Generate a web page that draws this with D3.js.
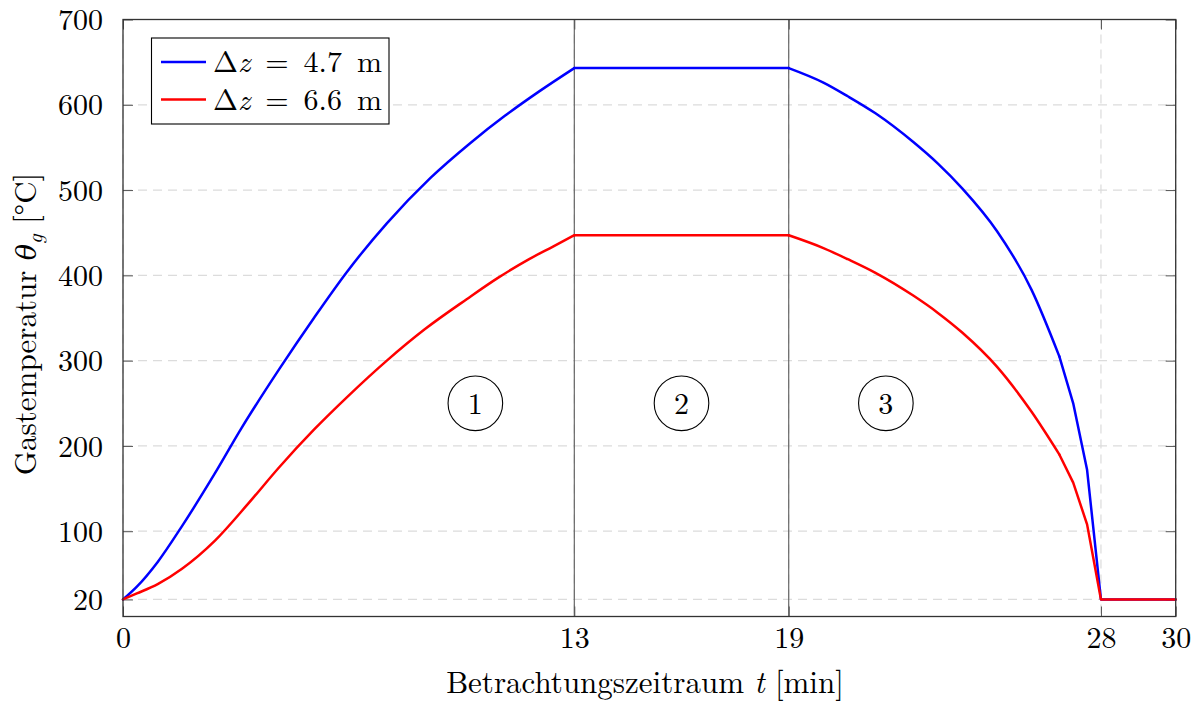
<!DOCTYPE html>
<html>
<head>
<meta charset="utf-8">
<script src="https://cdn.jsdelivr.net/npm/d3@7"></script>
<style>
  html, body { margin: 0; padding: 0; background: #fff; }
  svg { display: block; }
  text { font-family: 'Latin Modern Roman', 'CMU Serif', 'Liberation Serif', serif; fill: #000; }
</style>
</head>
<body>
<svg id="chart" width="1203" height="704"></svg>
<script>
// Time axis ticks [min] and temperature ticks [°C]
const timeTicks = [0, 13, 19, 28, 30];
const tempTicks = [20, 100, 200, 300, 400, 500, 600, 700];

// Δz = 4.7 m
const timeA = [0, 0.4, 1, 1.7, 2.65, 3.4, 4.5, 5.5, 6.45, 7.6, 8.85, 10, 11, 12, 13,
               19, 20, 20.7, 21.5, 22.6, 23.3, 24, 25, 26, 26.8, 27.2, 27.6, 28, 30];
const tempA = [20, 35, 64, 106, 168, 220, 290, 350, 404, 461, 514, 555, 587, 616, 643,
               643, 626, 610, 590, 556, 531, 502, 452, 383, 305, 250, 172, 20, 20];

// Δz = 6.6 m
const timeB = [0, 0.4, 1, 1.7, 2.65, 3.6, 4.5, 5.5, 6.5, 7.6, 8.7, 9.9, 10.8, 11.7, 12.4, 13,
               19, 20, 20.7, 21.5, 22.6, 23.3, 24, 25, 26, 26.8, 27.2, 27.6, 28, 30];
const tempB = [20, 27, 38, 56, 89, 132, 175, 219, 259, 300, 337, 372, 397, 419, 434, 447,
               447, 432, 419, 403, 376, 356, 333, 293, 240, 190, 157, 108, 20, 20];

// Phase markers: label and position
const phaseLabels = ["1", "2", "3"];
const phaseTime = [10.15, 16, 21.8];
const phaseTemp = [250, 250, 250];

const legendLabels = ["4.7", "6.6"];
const seriesColors = ["#0000ff", "#ff0000"];

const W = 1203, H = 704;
const margin = { left: 123, top: 19.5, right: 27.3, bottom: 87.5 };
const iw = W - margin.left - margin.right;
const ih = H - margin.top - margin.bottom;

const svg = d3.select("#chart");
const g = svg.append("g").attr("transform", `translate(${margin.left},${margin.top})`);

// Piecewise time axis: the phase boundaries sit at fixed fractions of the width
const timeFrac = [0, 0.4287, 0.6324, 0.9290, 1];
const x = d3.scaleLinear().domain(timeTicks).range(timeFrac.map(f => f * iw));
const y = d3.scaleLinear().domain([0, 700]).range([ih, 0]);

// Dashed grid
const gridStyle = sel => sel.attr("stroke", "#dcdcdc").attr("stroke-width", 1.2)
  .attr("stroke-dasharray", "9,6").attr("fill", "none");
g.append("g").selectAll("line").data(tempTicks).join("line")
  .attr("x1", 0).attr("x2", iw).attr("y1", d => y(d)).attr("y2", d => y(d)).call(gridStyle);
g.append("g").selectAll("line").data(timeTicks).join("line")
  .attr("x1", d => x(d)).attr("x2", d => x(d)).attr("y1", 0).attr("y2", ih).call(gridStyle);

// Solid separators between phases
g.append("g").selectAll("line").data([13, 19]).join("line")
  .attr("x1", d => x(d)).attr("x2", d => x(d)).attr("y1", 0).attr("y2", ih)
  .attr("stroke", "#5a5a5a").attr("stroke-width", 1.1);

// Axes with inward ticks on all four sides
const tickLen = 10;
const fontSize = 30;
const xAxisB = d3.axisBottom(x).tickValues(timeTicks).tickSize(-tickLen).tickPadding(10).tickFormat(d3.format("d"));
const xAxisT = d3.axisTop(x).tickValues(timeTicks).tickSize(-tickLen).tickFormat("");
const yAxisL = d3.axisLeft(y).tickValues(tempTicks).tickSize(-tickLen).tickPadding(20).tickFormat(d3.format("d"));
const yAxisR = d3.axisRight(y).tickValues(tempTicks).tickSize(-tickLen).tickFormat("");

function styleAxis(sel) {
  sel.select(".domain").remove();
  sel.selectAll(".tick line").attr("stroke", "#555").attr("stroke-width", 1);
  sel.selectAll(".tick text").attr("font-size", fontSize).attr("fill", "#000")
    .style("font-family", "'Latin Modern Roman', 'CMU Serif', 'Liberation Serif', serif");
}
g.append("g").attr("transform", `translate(0,${ih})`).call(xAxisB).call(styleAxis)
  .selectAll(".tick text").attr("dy", "0.71em");
g.append("g").call(xAxisT).call(styleAxis);
g.append("g").call(yAxisL).call(styleAxis)
  .selectAll(".tick text").attr("dy", "0.34em");
g.append("g").attr("transform", `translate(${iw},0)`).call(yAxisR).call(styleAxis);

// Curves: smooth heating and cooling phases, straight plateau and final drop
function pieces(ts, vs) {
  const pts = d3.zip(ts, vs);
  const i13 = ts.indexOf(13), i19 = ts.indexOf(19), iTail = ts.indexOf(26.8);
  return [
    { pts: pts.slice(0, i13 + 1), curve: d3.curveMonotoneX },
    { pts: pts.slice(i13, i19 + 1), curve: d3.curveLinear },
    { pts: pts.slice(i19, iTail + 1), curve: d3.curveMonotoneX },
    { pts: pts.slice(iTail), curve: d3.curveLinear }
  ];
}
const seriesData = [pieces(timeA, tempA), pieces(timeB, tempB)];
const lineGen = c => d3.line().x(d => x(d[0])).y(d => y(d[1])).curve(c);
seriesData.forEach((segs, i) => {
  const sg = g.append("g");
  segs.forEach(s => {
    sg.append("path").attr("d", lineGen(s.curve)(s.pts)).attr("fill", "none")
      .attr("stroke", seriesColors[i]).attr("stroke-width", 2.5)
      .attr("stroke-linejoin", "round").attr("stroke-linecap", "round");
  });
});

// Phase markers
const phases = g.append("g").selectAll("g").data(phaseLabels).join("g")
  .attr("transform", (d, i) => `translate(${x(phaseTime[i])},${y(phaseTemp[i])})`);
phases.append("circle").attr("r", 27.3).attr("fill", "none").attr("stroke", "#000").attr("stroke-width", 1.1);
phases.append("text").attr("text-anchor", "middle").attr("dy", "0.35em")
  .attr("font-size", fontSize).text(d => d);

// Frame
g.append("rect").attr("x", 0).attr("y", 0).attr("width", iw).attr("height", ih)
  .attr("fill", "none").attr("stroke", "#333").attr("stroke-width", 1.3);

// Legend
const lg = svg.append("g");
lg.append("rect").attr("x", 151.5).attr("y", 38).attr("width", 237.5).attr("height", 86)
  .attr("fill", "#fff").attr("stroke", "#000").attr("stroke-width", 1.1);
const rows = lg.selectAll("g.row").data(legendLabels).join("g").attr("class", "row")
  .attr("transform", (d, i) => `translate(0,${62 + i * 37.5})`);
rows.append("line").attr("x1", 161).attr("x2", 206).attr("y1", 0).attr("y2", 0)
  .attr("stroke", (d, i) => seriesColors[i]).attr("stroke-width", 2.5);
const lt = rows.append("text").attr("x", 213).attr("y", 10).attr("font-size", 30)
  .style("word-spacing", "5px");
lt.append("tspan").text("Δ");
lt.append("tspan").attr("font-style", "italic").text("z");
lt.append("tspan").text(d => ` = ${d} m`);

// Axis titles
svg.append("text").attr("x", 645).attr("y", 693)
  .attr("text-anchor", "middle").attr("font-size", 31)
  .call(t => {
    t.append("tspan").text("Betrachtungszeitraum ");
    t.append("tspan").attr("font-style", "italic").text("t");
    t.append("tspan").text(" [min]");
  });

svg.append("text").attr("transform", "translate(36,324) rotate(-90)")
  .attr("text-anchor", "middle").attr("font-size", 31)
  .call(t => {
    t.append("tspan").text("Gastemperatur ");
    t.append("tspan").attr("font-style", "italic").attr("font-size", 27)
      .style("font-family", "'DejaVu Serif', serif").text("θ");
    t.append("tspan").attr("font-style", "italic").attr("font-size", 21).attr("dy", 6).text("g");
    t.append("tspan").attr("dy", -6).text(" [°C]");
  });
</script>
</body>
</html>
